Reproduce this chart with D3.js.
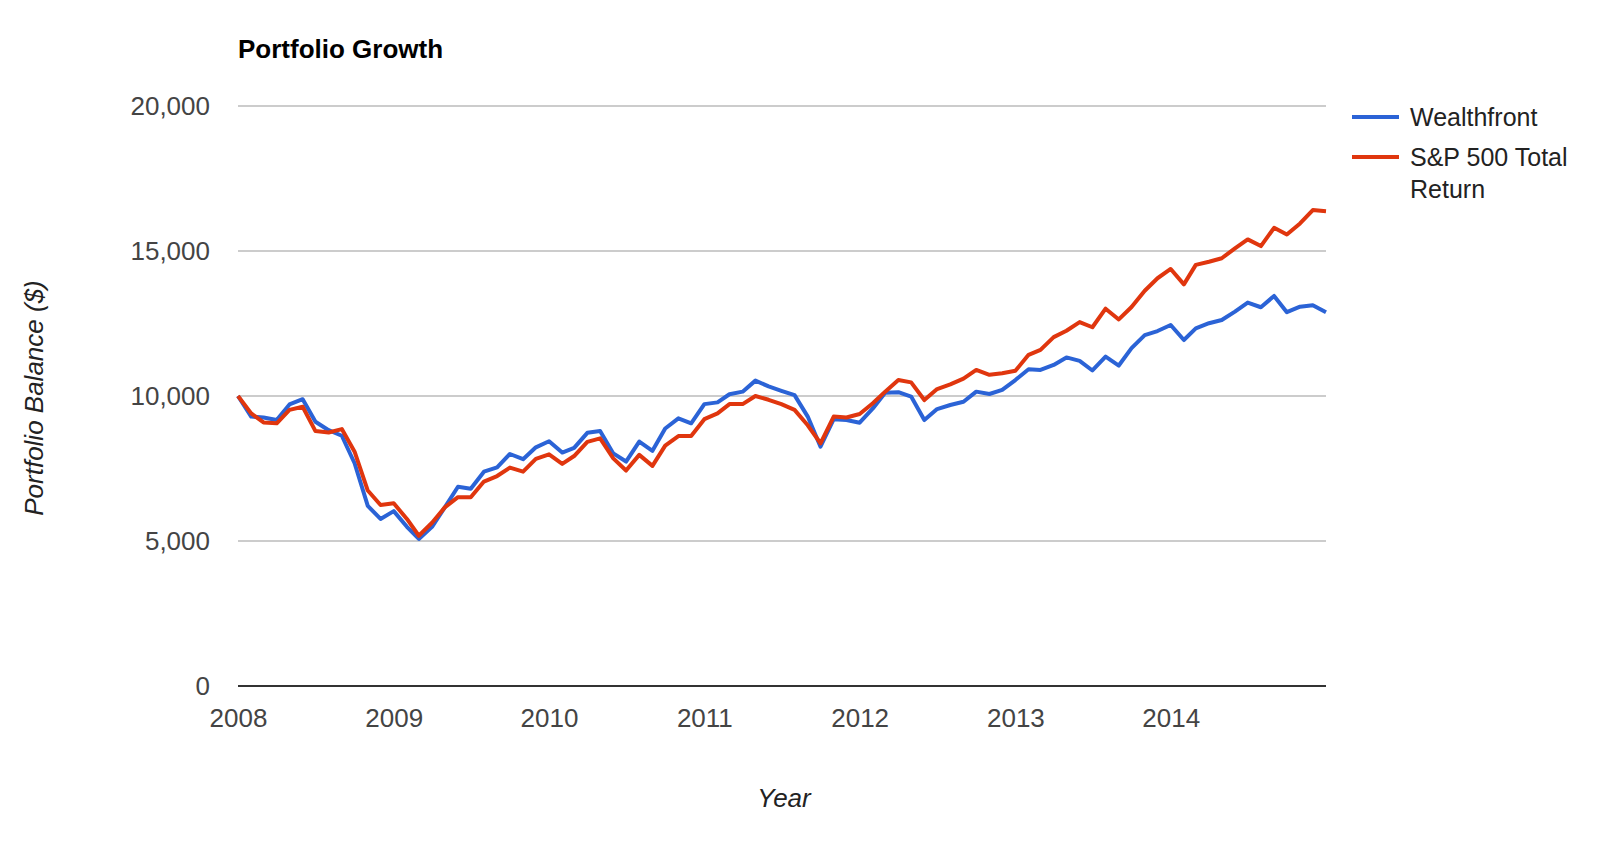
<!DOCTYPE html>
<html>
<head>
<meta charset="utf-8">
<script src="https://cdn.jsdelivr.net/npm/d3@7"></script>
<style>
  body { margin: 0; background: #fff; }
  svg { display: block; font-family: "Liberation Sans", Arial, sans-serif; }
</style>
</head>
<body>
<div class="chart"></div>
<script>
// Monthly balances, Jan 2008 .. Jan 2015, starting from $10,000
let wealthfront = [
  10000, 9290, 9260, 9170, 9710, 9890, 9110, 8820, 8630, 7680, 6210, 5760,
  6030, 5490, 5070, 5490, 6160, 6870, 6800, 7390, 7540, 8000, 7820, 8230,
  8440, 8050, 8210, 8730, 8790, 8020, 7740, 8430, 8110, 8880, 9230, 9060,
  9720, 9780, 10060, 10150, 10530, 10330, 10180, 10030, 9290, 8250, 9200, 9170,
  9080, 9570, 10110, 10130, 9980, 9170, 9550, 9690, 9800, 10150, 10070, 10210,
  10550, 10920, 10900, 11070, 11330, 11210, 10880, 11360, 11050, 11650, 12100, 12240,
  12450, 11930, 12330, 12510, 12620, 12910, 13220, 13060, 13450, 12890, 13080, 13130,
  12890
];

let sp500 = [
  10000, 9400, 9090, 9060, 9520, 9630, 8790, 8740, 8860, 8080, 6740, 6240,
  6300, 5760, 5180, 5630, 6160, 6510, 6510, 7050, 7240, 7530, 7390, 7830,
  7990, 7660, 7930, 8420, 8540, 7850, 7430, 7970, 7590, 8290, 8620, 8620,
  9200, 9400, 9720, 9720, 10000, 9870, 9720, 9520, 8990, 8370, 9290, 9260,
  9380, 9750, 10150, 10550, 10470, 9860, 10240, 10400, 10600, 10900, 10730, 10785,
  10870, 11420, 11590, 12030, 12250, 12550, 12370, 13010, 12640, 13070, 13630, 14060,
  14380, 13850, 14520, 14630, 14750, 15090, 15400, 15170, 15800, 15570, 15950, 16410,
  16370
];

let months = d3.timeMonth.range(new Date(2008, 0, 1), new Date(2015, 1, 1));
let yearTicks = [2008, 2009, 2010, 2011, 2012, 2013, 2014];
let valueTicks = [0, 5000, 10000, 15000, 20000];

let series = [
  { name: "Wealthfront", values: wealthfront, color: "#2b63d6" },
  { name: "S&P 500 Total Return", values: sp500, color: "#e0360e", label: ["S&P 500 Total", "Return"] }
];

let width = 1600;
let height = 851;
let margin = { top: 106, right: 274, bottom: 165, left: 238 };
let fontSize = 26;

let svg = d3.select(".chart")
  .append("svg")
  .attr("width", width)
  .attr("height", height);

let x = d3.scaleTime()
  .domain([new Date(2008, 0, 1), new Date(2015, 0, 1)])
  .range([margin.left, width - margin.right]);

let y = d3.scaleLinear()
  .domain([0, 20000])
  .range([height - margin.bottom, margin.top]);

// gridlines
svg.append("g")
  .selectAll("line")
  .data(valueTicks.filter(d => d > 0))
  .enter().append("line")
    .attr("x1", x.range()[0])
    .attr("x2", x.range()[1])
    .attr("y1", d => y(d))
    .attr("y2", d => y(d))
    .attr("stroke", "#cccccc")
    .attr("stroke-width", 2);

// y axis labels
let yAxis = svg.append("g")
  .attr("transform", "translate(" + 210 + ",0)")
  .call(d3.axisLeft(y).tickValues(valueTicks).tickFormat(d3.format(",")).tickSize(0).tickPadding(0));
yAxis.select(".domain").remove();
yAxis.selectAll("text")
  .attr("font-size", fontSize)
  .attr("fill", "#444")
  .attr("font-family", "Liberation Sans, Arial, sans-serif");

// x axis labels
let xAxis = svg.append("g")
  .attr("transform", "translate(0," + 709 + ")")
  .call(d3.axisBottom(x)
    .tickValues(yearTicks.map(d => new Date(d, 0, 1)))
    .tickFormat(d3.timeFormat("%Y"))
    .tickSize(0).tickPadding(0));
xAxis.select(".domain").remove();
xAxis.selectAll("text")
  .attr("font-size", fontSize)
  .attr("fill", "#444")
  .attr("font-family", "Liberation Sans, Arial, sans-serif");

// lines
let line = d3.line()
  .x((d, i) => x(months[i]))
  .y(d => y(d));

svg.append("g")
  .selectAll("path")
  .data(series)
  .enter().append("path")
    .attr("d", d => line(d.values))
    .attr("fill", "none")
    .attr("stroke", d => d.color)
    .attr("stroke-width", 4)
    .attr("stroke-linejoin", "round");

// baseline
svg.append("line")
  .attr("x1", x.range()[0])
  .attr("x2", x.range()[1])
  .attr("y1", y(0))
  .attr("y2", y(0))
  .attr("stroke", "#333")
  .attr("stroke-width", 2);

// title
svg.append("text")
  .attr("x", 238)
  .attr("y", 58)
  .attr("font-size", fontSize)
  .attr("font-weight", "bold")
  .attr("fill", "#000")
  .text("Portfolio Growth");

// axis titles
svg.append("text")
  .attr("transform", "translate(43,398) rotate(-90)")
  .attr("text-anchor", "middle")
  .attr("font-size", fontSize)
  .attr("font-style", "italic")
  .attr("fill", "#222")
  .text("Portfolio Balance ($)");

svg.append("text")
  .attr("x", 784)
  .attr("y", 807)
  .attr("text-anchor", "middle")
  .attr("font-size", fontSize)
  .attr("font-style", "italic")
  .attr("fill", "#222")
  .text("Year");

// legend
let legend = svg.append("g")
  .selectAll("g")
  .data(series)
  .enter().append("g")
    .attr("transform", (d, i) => "translate(1352," + (117 + i * 40) + ")");

legend.append("line")
  .attr("x1", 0)
  .attr("x2", 47)
  .attr("stroke", d => d.color)
  .attr("stroke-width", 4);

legend.append("text")
  .attr("x", 58)
  .attr("y", 9)
  .attr("font-size", 25)
  .attr("fill", "#222")
  .selectAll("tspan")
  .data(d => d.label || [d.name])
  .enter().append("tspan")
    .attr("x", 58)
    .attr("dy", (d, i) => i === 0 ? 0 : 32)
    .text(d => d);
</script>
</body>
</html>
